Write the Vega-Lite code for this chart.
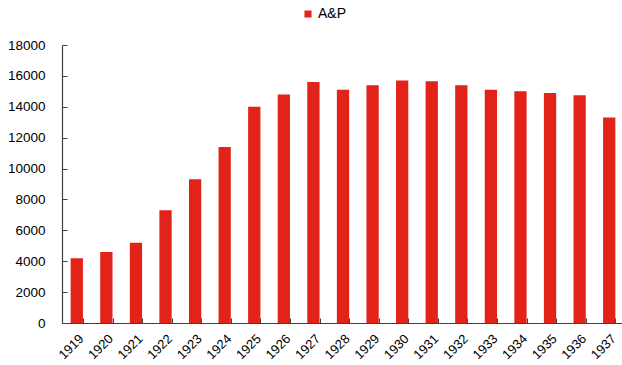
{
  "$schema": "https://vega.github.io/schema/vega-lite/v6.json",
  "width": 562,
  "height": 278,
  "autosize": {"type": "none"},
  "padding": {"left": 62, "top": 45, "right": 0, "bottom": 42},
  "background": "white",
  "data": {
    "values": [
      {"year": "1919", "stores": 4200, "series": "A&P"},
      {"year": "1920", "stores": 4600, "series": "A&P"},
      {"year": "1921", "stores": 5200, "series": "A&P"},
      {"year": "1922", "stores": 7300, "series": "A&P"},
      {"year": "1923", "stores": 9300, "series": "A&P"},
      {"year": "1924", "stores": 11400, "series": "A&P"},
      {"year": "1925", "stores": 14000, "series": "A&P"},
      {"year": "1926", "stores": 14800, "series": "A&P"},
      {"year": "1927", "stores": 15600, "series": "A&P"},
      {"year": "1928", "stores": 15100, "series": "A&P"},
      {"year": "1929", "stores": 15400, "series": "A&P"},
      {"year": "1930", "stores": 15700, "series": "A&P"},
      {"year": "1931", "stores": 15650, "series": "A&P"},
      {"year": "1932", "stores": 15400, "series": "A&P"},
      {"year": "1933", "stores": 15100, "series": "A&P"},
      {"year": "1934", "stores": 15000, "series": "A&P"},
      {"year": "1935", "stores": 14900, "series": "A&P"},
      {"year": "1936", "stores": 14750, "series": "A&P"},
      {"year": "1937", "stores": 13300, "series": "A&P"}
    ]
  },
  "config": {
    "view": {"stroke": null},
    "font": "Liberation Sans",
    "axis": {
      "labelFont": "Liberation Sans",
      "labelColor": "#000000",
      "domainColor": "#404040",
      "tickColor": "#404040",
      "grid": false,
      "title": null
    }
  },
  "mark": {"type": "bar", "color": "#E2231A"},
  "encoding": {
    "x": {
      "field": "year",
      "type": "ordinal",
      "scale": {"paddingInner": 0.585, "paddingOuter": 0.2925},
      "axis": {
        "labelAngle": -45,
        "labelFontSize": 13,
        "tickBand": "extent",
        "tickSize": -5,
        "labelPadding": 14,
        "domainWidth": 1.2
      }
    },
    "y": {
      "field": "stores",
      "type": "quantitative",
      "scale": {"domain": [0, 18000], "nice": false},
      "axis": {
        "values": [0, 2000, 4000, 6000, 8000, 10000, 12000, 14000, 16000, 18000],
        "format": "d",
        "labelFontSize": 13.5,
        "tickSize": -5,
        "labelPadding": 22,
        "domainWidth": 1.2
      }
    },
    "color": {
      "field": "series",
      "type": "nominal",
      "scale": {"range": ["#E2231A"]},
      "legend": {
        "title": null,
        "orient": "none",
        "legendX": 239,
        "legendY": -38,
        "symbolType": "square",
        "symbolSize": 50,
        "symbolStrokeWidth": 0,
        "labelFont": "Liberation Sans",
        "labelFontSize": 14,
        "labelColor": "#000000",
        "labelOffset": 3
      }
    }
  }
}
